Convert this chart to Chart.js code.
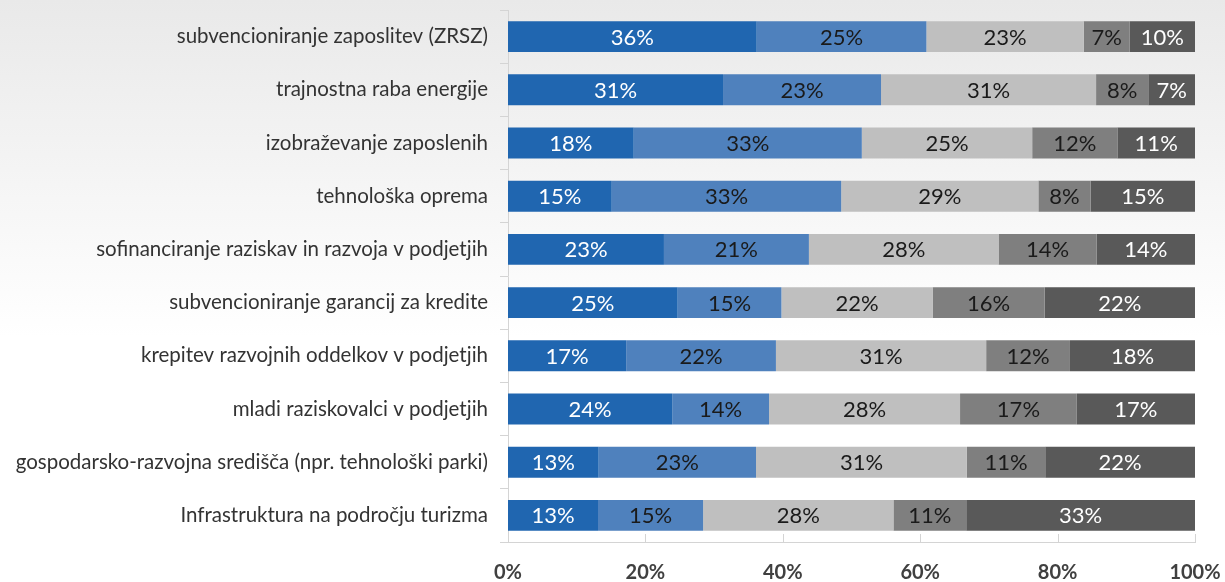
<!DOCTYPE html>
<html>
<head>
<meta charset="utf-8">
<script src="https://cdn.jsdelivr.net/npm/chart.js@4.4.1/dist/chart.umd.min.js"></script>
<style>
    html, body { margin: 0; padding: 0; }
    body { width: 1225px; height: 582px; background: linear-gradient(to bottom, #e9e9e9 0%, #ffffff 58%, #ffffff 100%); }
    #wrap { position: relative; width: 1225px; height: 582px; }
</style>
</head>
<body>
<div id="wrap"><canvas id="barChart"></canvas></div>
<script>
// categories (top to bottom)
let categories = [
    "subvencioniranje zaposlitev (ZRSZ)",
    "trajnostna raba energije",
    "izobraževanje zaposlenih",
    "tehnološka oprema",
    "sofinanciranje raziskav in razvoja v podjetjih",
    "subvencioniranje garancij za kredite",
    "krepitev razvojnih oddelkov v podjetjih",
    "mladi raziskovalci v podjetjih",
    "gospodarsko-razvojna središča (npr. tehnološki parki)",
    "Infrastruktura na področju turizma"
];

// shares in % (labels show them rounded)
let share1 = [36.2, 31.3, 18.3, 15.1, 22.7, 24.7, 17.2, 23.9, 13.2, 13.1];
let share2 = [24.7, 23.0, 33.2, 33.4, 21.1, 15.1, 21.8, 14.1, 22.9, 15.3];
let share3 = [22.9, 31.3, 24.8, 28.7, 27.6, 22.0, 30.6, 27.8, 30.7, 27.7];
let share4 = [6.7, 7.6, 12.4, 7.6, 14.3, 16.3, 12.2, 17.0, 11.4, 10.6];
let share5 = [9.5, 6.8, 11.3, 15.2, 14.3, 21.9, 18.2, 17.2, 21.8, 33.3];

let xTicks = [0, 20, 40, 60, 80, 100];

let barColors = ["#2066b0", "#4f81bd", "#bfbfbf", "#7f7f7f", "#595959"];
let labelColors = ["#ffffff", "#1a1a1a", "#1a1a1a", "#1a1a1a", "#ffffff"];

const FONT = "Lato, 'Open Sans', sans-serif";

// percentage labels in the middle of each segment
const segmentLabels = {
    id: 'segmentLabels',
    afterDatasetsDraw(chart) {
        let ctx = chart.ctx;
        ctx.save();
        ctx.font = "22px " + FONT;
        ctx.textAlign = 'center';
        ctx.textBaseline = 'middle';
        chart.data.datasets.forEach(function(ds, i) {
            let meta = chart.getDatasetMeta(i);
            meta.data.forEach(function(bar, j) {
                let p = bar.getProps(['x', 'y', 'base'], true);
                ctx.fillStyle = labelColors[i];
                ctx.fillText(Math.round(ds.data[j]) + '%', (p.x + p.base) / 2, p.y + 1);
            });
        });
        ctx.restore();
    }
};

// short tick marks on the x axis, pointing up into the plot
const innerTicks = {
    id: 'innerTicks',
    afterDraw(chart) {
        let ctx = chart.ctx;
        let xs = chart.scales.x;
        let bottom = chart.chartArea.bottom;
        ctx.save();
        ctx.strokeStyle = "#d4d4d4";
        ctx.lineWidth = 1;
        xTicks.forEach(function(v) {
            let px = Math.round(xs.getPixelForValue(v)) + 0.5;
            ctx.beginPath();
            ctx.moveTo(px, bottom - 8);
            ctx.lineTo(px, bottom);
            ctx.stroke();
        });
        ctx.restore();
    }
};

let ctxB = document.getElementById("barChart").getContext('2d');
let myBarChart = new Chart(ctxB, {
    type: 'bar',
    data: {
        labels: categories,
        datasets: [share1, share2, share3, share4, share5].map(function(d, i) {
            return {
                label: 'skupina ' + (i + 1),
                data: d,
                backgroundColor: barColors[i],
                borderWidth: 0,
                barPercentage: 0.58,
                categoryPercentage: 1
            };
        })
    },
    options: {
        indexAxis: 'y',
        responsive: true,
        maintainAspectRatio: false,
        animation: false,
        layout: { padding: { left: 0, right: 30, top: 10, bottom: 0 } },
        plugins: {
            legend: { display: false },
            tooltip: { enabled: false }
        },
        scales: {
            x: {
                stacked: true,
                min: 0,
                max: 100,
                afterBuildTicks: function(scale) {
                    scale.ticks = xTicks.map(function(v) { return { value: v }; });
                },
                afterFit: function(scale) {
                    scale.height = 40;
                    scale.paddingLeft = 0;
                    scale.paddingRight = 0;
                },
                ticks: {
                    padding: 11,
                    maxRotation: 0,
                    color: "#404040",
                    font: { family: FONT, size: 20, weight: 'bold' },
                    callback: function(v) { return v + '%'; }
                },
                grid: { display: false },
                border: { display: true, color: "#d4d4d4", width: 1 }
            },
            y: {
                stacked: true,
                afterFit: function(scale) {
                    scale.width = 508;
                    scale.paddingTop = 0;
                    scale.paddingBottom = 0;
                },
                ticks: {
                    padding: 12,
                    color: "#333333",
                    font: { family: FONT, size: 20.5 }
                },
                grid: {
                    offset: true,
                    drawOnChartArea: false,
                    drawTicks: true,
                    tickLength: 8,
                    color: "#d4d4d4"
                },
                border: { display: true, color: "#d4d4d4", width: 1 }
            }
        }
    },
    plugins: [segmentLabels, innerTicks]
});
</script>
</body>
</html>
